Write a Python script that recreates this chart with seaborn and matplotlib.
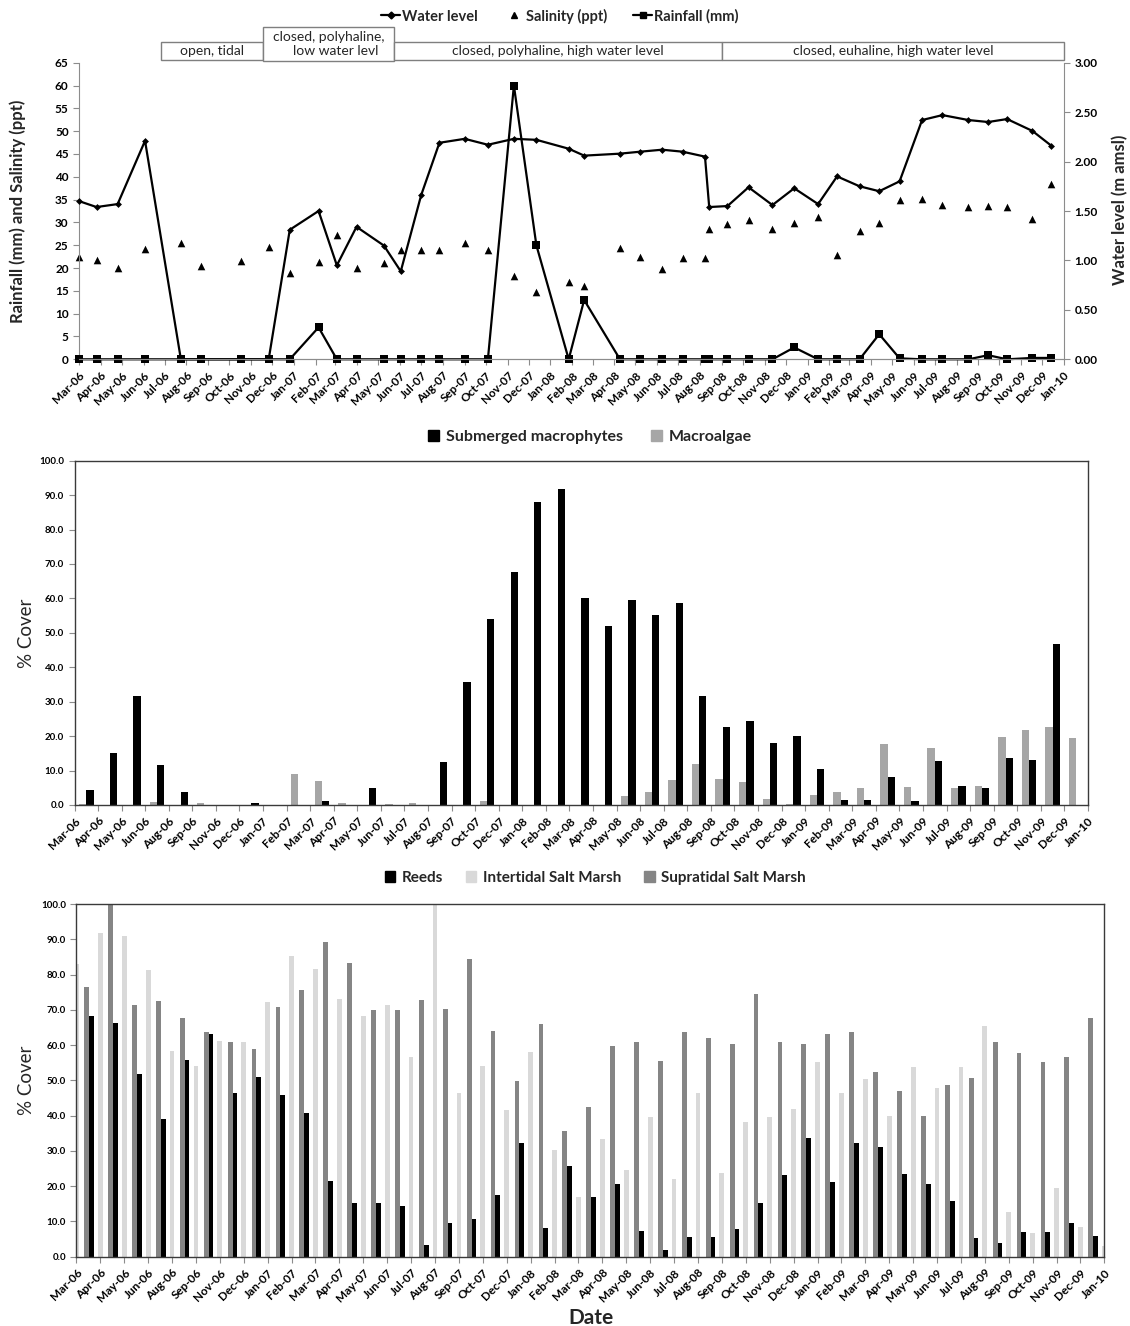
import numpy as np
import pandas as pd
import matplotlib
matplotlib.use("Agg")
import matplotlib.pyplot as plt
import matplotlib.dates as mdates
import matplotlib.transforms as mtransforms
from matplotlib.lines import Line2D
from matplotlib.patches import Patch, Rectangle
import seaborn as sns

# ---------- top panel: sampling dates and field measurements ----------
sample_dates = ["2006-03-01", "2006-03-26", "2006-04-25", "2006-06-03", "2006-07-24", "2006-08-22",
                "2006-10-17", "2006-11-26", "2006-12-26", "2007-02-05", "2007-03-03", "2007-03-31",
                "2007-05-09", "2007-06-02", "2007-07-01", "2007-07-27", "2007-09-01", "2007-10-04",
                "2007-11-10", "2007-12-12", "2008-01-27", "2008-02-18", "2008-04-09", "2008-05-08",
                "2008-06-08", "2008-07-07", "2008-08-08", "2008-08-14", "2008-09-09", "2008-10-09",
                "2008-11-12", "2008-12-13", "2009-01-16", "2009-02-12", "2009-03-16", "2009-04-13",
                "2009-05-12", "2009-06-13", "2009-07-12", "2009-08-18", "2009-09-15", "2009-10-12",
                "2009-11-17", "2009-12-14"]
water_level = [1.60, 1.54, 1.57, 2.21, 0, 0, 0, 0, 1.31, 1.50, 0.95, 1.34, 1.15, 0.89, 1.66, 2.19,
               2.23, 2.17, 2.23, 2.22, 2.13, 2.06, 2.08, 2.10, 2.12, 2.10, 2.05, 1.54, 1.55, 1.74,
               1.56, 1.73, 1.57, 1.85, 1.75, 1.70, 1.80, 2.42, 2.47, 2.42, 2.40, 2.43, 2.31, 2.16]
salinity = [22.5, 21.8, 19.9, 24.1, 25.4, 20.5, 21.5, 24.7, 19.0, 21.3, 27.2, 20.1, 21.0, 24.0, 24.0,
            24.0, 25.4, 24.0, 18.3, 14.8, 16.9, 16.1, 24.3, 22.5, 19.7, 22.1, 22.1, 28.6, 29.6, 30.5,
            28.6, 29.9, 31.1, 22.9, 28.2, 29.9, 34.9, 35.2, 33.8, 33.4, 33.7, 33.4, 30.8, 38.5]
rainfall = [0, 0, 0, 0, 0, 0, 0, 0, 0, 7.0, 0, 0, 0, 0, 0, 0, 0, 0, 60.0, 25.0, 0, 13.0,
            0, 0, 0, 0, 0, 0, 0, 0, 0, 2.6, 0, 0, 0, 5.5, 0.2, 0, 0, 0, 0.9, 0, 0.3, 0.3]

# mouth state periods shown as boxes above the top panel
phase_names = ["open, tidal", "closed, polyhaline,\n    low water levl",
               "closed, polyhaline, high water level", "closed, euhaline, high water level"]
phase_edges = ["2006-06-26", "2006-11-18", "2007-05-24", "2008-09-01", "2010-01-01"]

# ---------- bar panels: survey months ----------
survey_months = ["Mar-06", "Apr-06", "May-06", "Jun-06", "Aug-06", "Sep-06", "Nov-06", "Dec-06",
                 "Jan-07", "Feb-07", "Mar-07", "Apr-07", "May-07", "Jun-07", "Jul-07", "Aug-07",
                 "Sep-07", "Oct-07", "Dec-07", "Jan-08", "Feb-08", "Mar-08", "Apr-08", "May-08",
                 "Jun-08", "Jul-08", "Aug-08", "Sep-08", "Oct-08", "Nov-08", "Dec-08", "Jan-09",
                 "Feb-09", "Mar-09", "Apr-09", "May-09", "Jun-09", "Jul-09", "Aug-09", "Sep-09",
                 "Oct-09", "Nov-09", "Dec-09", "Jan-10"]
nan = np.nan
submerged = [nan, 4.5, 15.0, 31.8, 11.6, 3.7, 0, 0, 0.5, 0, 0, 1.3, 0, 4.8, 0, 0, 12.6, 35.7,
             53.9, 67.8, 88.0, 91.8, 60.1, 52.1, 59.5, 55.1, 58.6, 31.6, 22.7, 24.5, 17.9, 20.0,
             10.6, 1.5, 1.5, 8.0, 1.3, 12.8, 5.5, 5.0, 13.6, 13.0, 46.7, 0]
macroalgae = [nan, 0.2, 0, 0, 0.8, 0, 0.5, 0, 0, 0, 9.0, 7.0, 0.7, 0, 0.3, 0.5, 0, 0, 1.2, 0,
              0, 0, 0, 0, 2.7, 3.9, 7.2, 12.0, 7.5, 6.7, 1.8, 0.4, 2.9, 3.9, 4.9, 17.8, 5.3,
              16.7, 4.9, 5.5, 19.7, 21.7, 22.7, 19.6]
reeds = [nan, 68.3, 66.3, 51.8, 39.0, 55.9, 63.0, 46.3, 50.9, 45.9, 40.8, 21.4, 15.1, 15.1, 14.4,
         3.2, 9.6, 10.8, 17.6, 32.3, 8.1, 25.6, 16.8, 20.5, 7.2, 1.9, 5.7, 5.7, 7.9, 15.3, 23.3,
         33.6, 21.1, 32.1, 31.0, 23.4, 20.6, 15.7, 5.3, 4.0, 7.0, 7.0, 9.5, 5.9]
intertidal = [83.0, 91.8, 90.8, 81.3, 58.3, 54.2, 61.2, 61.0, 72.2, 85.2, 81.7, 73.0, 68.2, 71.5,
              56.5, 100.0, 46.3, 54.2, 41.6, 58.0, 30.2, 17.0, 33.5, 24.6, 39.6, 22.0, 46.3, 23.6,
              38.1, 39.7, 42.0, 55.2, 46.3, 50.3, 39.9, 53.9, 47.7, 53.9, 65.3, 12.7, 6.8, 19.4,
              8.4, 3.0]
supratidal = [nan, 76.5, 100.0, 71.5, 72.5, 67.8, 63.7, 61.0, 58.8, 70.7, 75.7, 89.1, 83.4, 70.0,
              69.9, 72.7, 70.1, 84.3, 64.0, 49.8, 66.0, 35.5, 42.5, 59.8, 60.8, 55.5, 63.6, 61.9,
              60.2, 74.5, 61.0, 60.2, 63.2, 63.7, 52.3, 47.1, 39.9, 48.7, 50.8, 60.8, 57.8, 55.1,
              56.5, 67.7]

sns.set_style("ticks")
plt.rcParams["font.family"] = ["Lato", "DejaVu Sans"]
plt.rcParams["font.weight"] = "bold"

W, H = 1130, 1326
fig = plt.figure(figsize=(W / 100, H / 100), dpi=100)


def box(l, r, t, b):
    return [l / W, 1 - b / H, (r - l) / W, (b - t) / H]


axis_grey = "#8c8c8c"

# ================= top panel =================
top = pd.DataFrame({"date": pd.to_datetime(sample_dates), "water": water_level,
                    "salinity": salinity, "rain": rainfall})

ax1 = fig.add_axes(box(79, 1064, 62.7, 359.3))
sns.lineplot(data=top, x="date", y="rain", ax=ax1, color="black", marker="s", markersize=6,
             markeredgewidth=0, lw=1.6, estimator=None, sort=False, clip_on=False, zorder=4)
sns.scatterplot(data=top, x="date", y="salinity", ax=ax1, color="black", marker="^", s=30,
                linewidth=0, clip_on=False)
ax2 = ax1.twinx()
sns.lineplot(data=top, x="date", y="water", ax=ax2, color="black", marker="D", markersize=3.5,
             markeredgewidth=0, lw=1.6, estimator=None, sort=False, clip_on=False)

ax1.set_xlim(pd.Timestamp("2006-03-01"), pd.Timestamp("2010-01-01"))
ax1.set_ylim(0, 65)
ax1.set_yticks(np.arange(0, 66, 5))
ax2.set_ylim(0, 3)
ax2.set_yticks(np.arange(0, 3.01, 0.5))
ax2.yaxis.set_major_formatter(matplotlib.ticker.FormatStrFormatter("%.2f"))
ax1.xaxis.set_major_locator(mdates.MonthLocator())
ax1.xaxis.set_major_formatter(mdates.DateFormatter("%b-%y"))
for a in (ax1, ax2):
    a.set_xlabel("")
    a.set_ylabel("")
    a.spines["top"].set_visible(False)
    for s in ("left", "right", "bottom"):
        a.spines[s].set_color(axis_grey)
    a.tick_params(colors=axis_grey, labelcolor="black", length=4, labelsize=8.5)
ax2.spines["left"].set_visible(False)
ax1.spines["right"].set_visible(False)
for lab in ax1.get_xticklabels():
    lab.set_rotation(45)
    lab.set_ha("right")
    lab.set_rotation_mode("anchor")
    lab.set_fontsize(8.5)
for lab in ax1.get_yticklabels() + ax2.get_yticklabels() + ax1.get_xticklabels():
    lab.set_fontweight("bold")

# mouth-state boxes above the panel
trans = mtransforms.blended_transform_factory(ax1.transData, ax1.transAxes)
edges = mdates.date2num(pd.to_datetime(phase_edges))
for i, name in enumerate(phase_names):
    x0, x1 = edges[i], edges[i + 1]
    y0, y1 = (1.006, 1.121) if i == 1 else (1.009, 1.070)
    ax1.add_patch(Rectangle((x0, y0), x1 - x0, y1 - y0, transform=trans, clip_on=False,
                            facecolor="white", edgecolor="#7f7f7f", lw=1.0))
    ax1.text((x0 + x1) / 2, (y0 + y1) / 2, name, transform=trans, ha="center", va="center",
             fontsize=10, fontweight="normal", linespacing=1.15)

top_handles = [Line2D([0], [0], color="black", marker="D", markersize=3.5, lw=1.6),
               Line2D([0], [0], color="black", marker="^", markersize=5, ls="none"),
               Line2D([0], [0], color="black", marker="s", markersize=5, lw=1.6)]
fig.legend(top_handles, ["Water level", "Salinity (ppt)", "Rainfall (mm)"], loc="center",
           bbox_to_anchor=(560 / W, 1 - 16 / H), ncol=3, frameon=False, handlelength=1.3,
           handletextpad=0.15, columnspacing=1.8, prop={"weight": "bold", "size": 10.5})
fig.text(18 / W, 1 - 211 / H, "Rainfall (mm) and Salinity (ppt)", rotation=90, ha="center",
         va="center", fontsize=12, fontweight="bold")
fig.text(1120 / W, 1 - 210 / H, "Water level (m amsl)", rotation=90, ha="center", va="center",
         fontsize=12, fontweight="bold")


def style_bar_axes(ax):
    ax.set_xlim(0, len(survey_months) - 1)
    ax.set_ylim(0, 100)
    ax.set_yticks(np.arange(0, 101, 10))
    ax.yaxis.set_major_formatter(matplotlib.ticker.FormatStrFormatter("%.1f"))
    ax.set_xticks(np.arange(len(survey_months)))
    ax.set_xticklabels(survey_months, rotation=45, ha="right", rotation_mode="anchor",
                       fontsize=8.5, fontweight="bold")
    for lab in ax.get_yticklabels():
        lab.set_fontsize(7)
        lab.set_fontweight("bold")
    ax.set_xlabel("")
    ax.set_ylabel("")
    for s in ax.spines.values():
        s.set_color("#3a3a3a")
        s.set_linewidth(1.0)
    ax.tick_params(colors=axis_grey, labelcolor="black", length=4)


idx = np.arange(len(survey_months))

# ================= middle panel =================
mid = pd.DataFrame({"pos": np.concatenate([idx - 0.5, idx - 0.5]),
                    "cover": macroalgae + submerged,
                    "group": ["Macroalgae"] * len(idx) + ["Submerged macrophytes"] * len(idx)}).dropna()
ax3 = fig.add_axes(box(74.5, 1088, 460.7, 805))
sns.barplot(data=mid, x="pos", y="cover", hue="group",
            hue_order=["Macroalgae", "Submerged macrophytes"], palette=["#a6a6a6", "black"],
            native_scale=True, width=0.62, errorbar=None, orient="x", legend=False,
            saturation=1, linewidth=0, ax=ax3)
style_bar_axes(ax3)
fig.legend([Patch(color="black"), Patch(color="#a6a6a6")], ["Submerged macrophytes", "Macroalgae"],
           loc="center", bbox_to_anchor=(590 / W, 1 - 437 / H), ncol=2, frameon=False,
           handlelength=0.7, handleheight=0.7, handletextpad=0.4, columnspacing=1.8,
           prop={"weight": "bold", "size": 11.5})
fig.text(27 / W, 1 - 633 / H, "% Cover", rotation=90, ha="center", va="center", fontsize=13.5,
         fontweight="normal")

# ================= bottom panel =================
low = pd.DataFrame({"pos": np.concatenate([idx - 0.47, idx - 0.47]),
                    "cover": supratidal + reeds,
                    "group": ["Supratidal Salt Marsh"] * len(idx) + ["Reeds"] * len(idx)}).dropna()
inter = pd.DataFrame({"pos": idx.astype(float), "cover": intertidal})
ax4 = fig.add_axes(box(76.4, 1104.4, 904, 1256.7))
sns.barplot(data=low, x="pos", y="cover", hue="group",
            hue_order=["Supratidal Salt Marsh", "Reeds"], palette=["#858585", "black"],
            native_scale=True, width=0.4, errorbar=None, orient="x", legend=False,
            saturation=1, linewidth=0, ax=ax4)
sns.barplot(data=inter, x="pos", y="cover", color="#d9d9d9", native_scale=True, width=0.2,
            errorbar=None, orient="x", saturation=1, linewidth=0, ax=ax4)
style_bar_axes(ax4)
fig.legend([Patch(color="black"), Patch(color="#d9d9d9"), Patch(color="#858585")],
           ["Reeds", "Intertidal Salt Marsh", "Supratidal Salt Marsh"], loc="center",
           bbox_to_anchor=(595 / W, 1 - 878 / H), ncol=3, frameon=False, handlelength=0.7,
           handleheight=0.7, handletextpad=0.4, columnspacing=1.5,
           prop={"weight": "bold", "size": 11})
fig.text(27 / W, 1 - 1080 / H, "% Cover", rotation=90, ha="center", va="center", fontsize=13.5,
         fontweight="normal")
fig.text(591 / W, 1 - 1318 / H, "Date", ha="center", va="center", fontsize=15, fontweight="bold")

fig.savefig("out.png", dpi=100)
